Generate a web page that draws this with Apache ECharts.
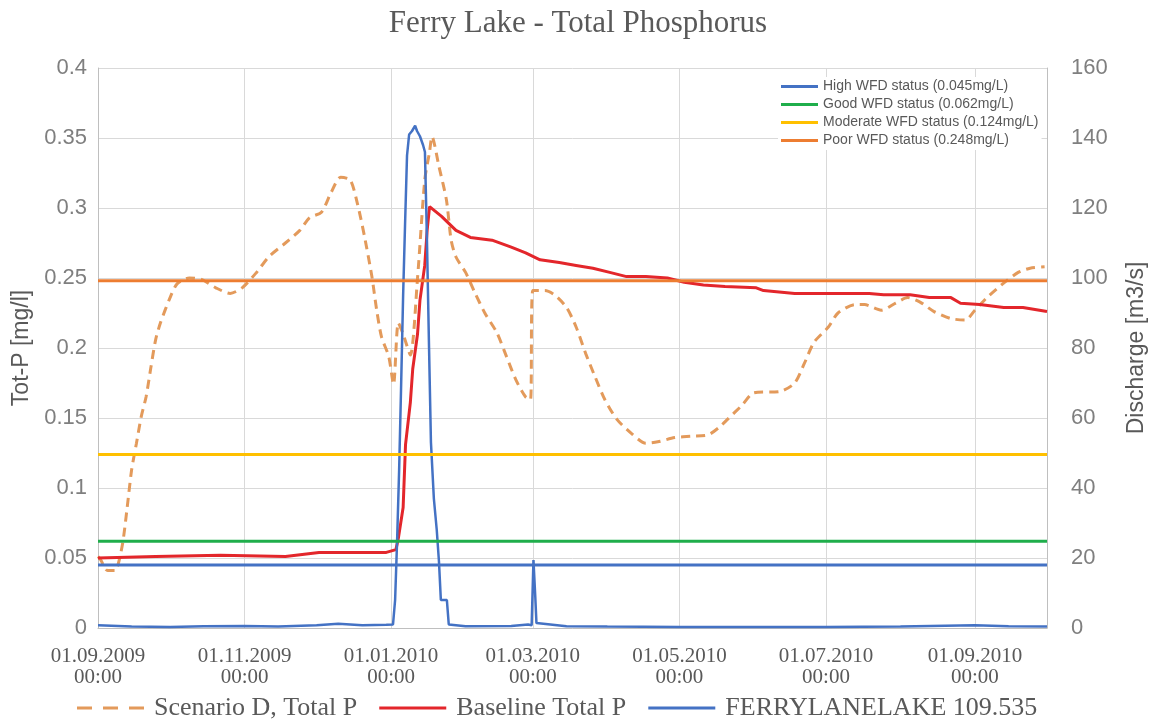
<!DOCTYPE html>
<html>
<head>
<meta charset="utf-8">
<title>Ferry Lake - Total Phosphorus</title>
<script src="https://cdn.jsdelivr.net/npm/echarts@6/dist/echarts.min.js"></script>
<style>
  html, body { margin: 0; padding: 0; background: #fff; }
  #chart { width: 1156px; height: 724px; }
</style>
</head>
<body>
<div id="chart"></div>
<script>
// Axis ticks (two-monthly) and range
const xRange = ['2009-09-01', '2010-10-01'];
const xTickDates = ['2009-09-01', '2009-11-01', '2010-01-01', '2010-03-01', '2010-05-01', '2010-07-01', '2010-09-01'];

// Scenario D, Total P [mg/l]
const scenarioDDates = [
  '2009-09-01', '2009-09-02', '2009-09-05', '2009-09-08', '2009-09-11', '2009-09-13', '2009-09-15', '2009-09-17',
  '2009-09-19', '2009-09-21', '2009-09-23', '2009-09-25', '2009-09-27', '2009-10-01', '2009-10-04', '2009-10-09',
  '2009-10-14', '2009-10-20', '2009-10-26', '2009-10-31', '2009-11-06', '2009-11-11', '2009-11-18', '2009-11-24',
  '2009-11-28', '2009-12-03', '2009-12-07', '2009-12-11', '2009-12-15', '2009-12-18', '2009-12-21', '2009-12-24',
  '2009-12-26', '2009-12-28', '2009-12-31', '2010-01-02', '2010-01-04', '2010-01-06', '2010-01-09', '2010-01-12',
  '2010-01-15', '2010-01-17', '2010-01-18', '2010-01-21', '2010-01-24', '2010-01-26', '2010-01-28', '2010-02-01',
  '2010-02-05', '2010-02-09', '2010-02-14', '2010-02-18', '2010-02-22', '2010-02-26', '2010-02-28', '2010-03-01',
  '2010-03-06', '2010-03-10', '2010-03-15', '2010-03-19', '2010-03-23', '2010-03-27', '2010-03-31', '2010-04-05',
  '2010-04-11', '2010-04-17', '2010-04-22', '2010-04-29', '2010-05-06', '2010-05-13', '2010-05-18', '2010-05-21',
  '2010-05-27', '2010-06-01', '2010-06-12', '2010-06-18', '2010-06-22', '2010-06-26', '2010-07-02', '2010-07-06',
  '2010-07-13', '2010-07-17', '2010-07-24', '2010-07-30', '2010-08-04', '2010-08-09', '2010-08-15', '2010-08-22',
  '2010-08-28', '2010-09-01', '2010-09-06', '2010-09-12', '2010-09-19', '2010-09-24', '2010-09-30'
];
const scenarioDValues = [
  0.051, 0.049, 0.041, 0.041, 0.058, 0.084, 0.113, 0.132,
  0.151, 0.165, 0.186, 0.206, 0.218, 0.236, 0.246, 0.250,
  0.249, 0.243, 0.239, 0.243, 0.254, 0.265, 0.275, 0.284,
  0.293, 0.297, 0.311, 0.322, 0.320, 0.303, 0.279, 0.251,
  0.227, 0.208, 0.194, 0.174, 0.218, 0.210, 0.195, 0.250,
  0.320, 0.340, 0.351, 0.329, 0.306, 0.277, 0.265, 0.254,
  0.239, 0.225, 0.211, 0.194, 0.177, 0.165, 0.163, 0.241,
  0.241, 0.238, 0.229, 0.215, 0.196, 0.179, 0.163, 0.149,
  0.139, 0.132, 0.133, 0.136, 0.137, 0.138, 0.144, 0.149,
  0.159, 0.168, 0.169, 0.175, 0.189, 0.204, 0.215, 0.225,
  0.231, 0.231, 0.227, 0.232, 0.236, 0.233, 0.226, 0.221,
  0.220, 0.227, 0.236, 0.245, 0.254, 0.257, 0.258
];

// Baseline Total P [mg/l]
const baselineDates = [
  '2009-09-01', '2009-09-25', '2009-10-22', '2009-11-18', '2009-12-02', '2009-12-30', '2010-01-03', '2010-01-04',
  '2010-01-06', '2010-01-07', '2010-01-09', '2010-01-10', '2010-01-12', '2010-01-13', '2010-01-15', '2010-01-16',
  '2010-01-17', '2010-01-22', '2010-01-28', '2010-02-03', '2010-02-12', '2010-02-20', '2010-02-26', '2010-03-04',
  '2010-03-12', '2010-03-19', '2010-03-26', '2010-04-02', '2010-04-09', '2010-04-17', '2010-04-26', '2010-05-03',
  '2010-05-11', '2010-05-20', '2010-06-02', '2010-06-05', '2010-06-18', '2010-07-03', '2010-07-19', '2010-07-25',
  '2010-08-05', '2010-08-13', '2010-08-22', '2010-08-26', '2010-09-03', '2010-09-13', '2010-09-21', '2010-10-01'
];
const baselineValues = [
  0.050, 0.051, 0.052, 0.051, 0.054, 0.054, 0.056, 0.064,
  0.086, 0.131, 0.161, 0.185, 0.210, 0.234, 0.259, 0.284,
  0.301, 0.294, 0.284, 0.279, 0.277, 0.272, 0.268, 0.263,
  0.261, 0.259, 0.257, 0.254, 0.251, 0.251, 0.250, 0.247,
  0.245, 0.244, 0.243, 0.241, 0.239, 0.239, 0.239, 0.238,
  0.238, 0.236, 0.236, 0.232, 0.231, 0.229, 0.229, 0.226
];

// FERRYLANELAKE 109.535 discharge [m3/s]
const dischargeDates = [
  '2009-09-01', '2009-09-15', '2009-10-01', '2009-10-15', '2009-11-01', '2009-11-15', '2009-12-01', '2009-12-10',
  '2009-12-20', '2009-12-30', '2010-01-01 19:00', '2010-01-02 16:00', '2010-01-03 12:00', '2010-01-04 08:00',
  '2010-01-05 03:00', '2010-01-06 00:00', '2010-01-06 19:00', '2010-01-07 15:00', '2010-01-08 12:00', '2010-01-09 17:00',
  '2010-01-11 00:00', '2010-01-11 19:00', '2010-01-13 00:00', '2010-01-14 07:00', '2010-01-15 02:00', '2010-01-15 22:00',
  '2010-01-16 19:00', '2010-01-17 14:00', '2010-01-18 19:00', '2010-01-20 00:00', '2010-01-20 22:00', '2010-01-21 17:00',
  '2010-01-24 05:00', '2010-01-25 00:00', '2010-02-01', '2010-02-20', '2010-02-27', '2010-02-28 12:00',
  '2010-03-01 06:00', '2010-03-02 00:00', '2010-03-02 12:00', '2010-03-15', '2010-04-01', '2010-05-01',
  '2010-06-01', '2010-07-01', '2010-08-01', '2010-09-01', '2010-09-15', '2010-10-01'
];
const dischargeValues = [
  0.8, 0.4, 0.3, 0.5, 0.6, 0.4, 0.8, 1.2,
  0.8, 0.9, 1.0, 8, 25, 45,
  68, 95, 115, 135, 141, 142,
  143.5, 142, 140.5, 138, 136, 111,
  80, 53, 37, 28, 19, 8,
  8, 1, 0.5, 0.6, 1.0, 0.8,
  19.4, 9, 1.4, 0.5, 0.4, 0.3,
  0.3, 0.3, 0.4, 0.8, 0.5, 0.4
];

// WFD status class boundaries [mg/l]
const statusNames = ['High WFD status (0.045mg/L)', 'Good WFD status (0.062mg/L)', 'Moderate WFD status (0.124mg/L)', 'Poor WFD status (0.248mg/L)'];
const statusValues = [0.045, 0.062, 0.124, 0.248];
const statusColors = ['#4472c4', '#1fae4b', '#ffc000', '#ed7d31'];

const seriesNames = ['Scenario D, Total P', 'Baseline Total P', 'FERRYLANELAKE 109.535'];

function toTs(s) {
  const [d, t] = s.split(' ');
  const [y, m, day] = d.split('-').map(Number);
  const [hh, mm] = t ? t.split(':').map(Number) : [0, 0];
  return new Date(y, m - 1, day, hh, mm).getTime();
}
function pair(dates, values) {
  return dates.map((d, i) => [toTs(d), values[i]]);
}
function pad(n) { return String(n).padStart(2, '0'); }
function fmtTick(v) {
  const d = new Date(v);
  return pad(d.getDate()) + '.' + pad(d.getMonth() + 1) + '.' + d.getFullYear() + '\n' + pad(d.getHours()) + ':' + pad(d.getMinutes());
}

const xMin = toTs(xRange[0]);
const xMax = toTs(xRange[1]);
const xTicks = xTickDates.map(toTs);

const gridColor = '#d9d9d9';
const textColor = '#595959';
const sans = 'Liberation Sans';
const serif = 'Liberation Serif';

// legend samples: plain bar for solid lines, three dashes for the dashed one
const solidIcon = 'rect';
const dashIcon = 'path://M0,0h15v3h-15z M26,0h15v3h-15z M52,0h15v3h-15z';

const series = [
  {
    name: seriesNames[0], type: 'line', yAxisIndex: 0, showSymbol: false, symbol: 'none',
    data: pair(scenarioDDates, scenarioDValues), smooth: 0.25,
    lineStyle: { color: '#e39a5b', width: 3, type: [9, 6] }, itemStyle: { color: '#e39a5b' }, z: 2
  },
  {
    name: seriesNames[1], type: 'line', yAxisIndex: 0, showSymbol: false, symbol: 'none',
    data: pair(baselineDates, baselineValues),
    lineStyle: { color: '#e3262b', width: 3 }, itemStyle: { color: '#e3262b' }, z: 3
  },
  {
    name: seriesNames[2], type: 'line', yAxisIndex: 1, showSymbol: false, symbol: 'none',
    data: pair(dischargeDates, dischargeValues),
    lineStyle: { color: '#4472c4', width: 2.5 }, itemStyle: { color: '#4472c4' }, z: 4
  }
];
statusNames.forEach((n, i) => {
  series.push({
    name: n, type: 'line', yAxisIndex: 0, showSymbol: false, symbol: 'none', silent: true,
    data: [[xMin, statusValues[i]], [xMax, statusValues[i]]],
    lineStyle: { color: statusColors[i], width: 3 }, itemStyle: { color: statusColors[i] }, z: 5
  });
});

const chart = echarts.init(document.getElementById('chart'), null, { renderer: 'canvas' });
chart.setOption({
  animation: false,
  backgroundColor: '#fff',
  title: {
    text: 'Ferry Lake - Total Phosphorus',
    left: 'center', top: 3,
    textStyle: { fontFamily: serif, fontSize: 31, fontWeight: 'normal', color: textColor }
  },
  legend: [
    {
      data: [
        { name: seriesNames[0], icon: dashIcon },
        { name: seriesNames[1], icon: solidIcon },
        { name: seriesNames[2], icon: solidIcon }
      ],
      bottom: -2, left: 72, itemWidth: 67, itemHeight: 3, itemGap: 22,
      textStyle: { fontFamily: serif, fontSize: 26, color: textColor, padding: [0, 0, 0, 5] }
    },
    {
      data: statusNames, icon: solidIcon, orient: 'vertical', top: 77, left: 778,
      itemWidth: 37, itemHeight: 3, itemGap: 3,
      backgroundColor: '#fff', padding: [2, 3],
      textStyle: { fontFamily: sans, fontSize: 14, lineHeight: 15, color: textColor }
    }
  ],
  grid: { left: 98, right: 106, top: 68, bottom: 96, containLabel: false },
  xAxis: {
    type: 'value', min: xMin, max: xMax,
    axisLine: { show: true, lineStyle: { color: '#bfbfbf' } },
    axisTick: { show: false, customValues: xTicks },
    axisLabel: {
      customValues: xTicks, formatter: fmtTick, margin: 18,
      fontFamily: serif, fontSize: 21, lineHeight: 21, color: textColor
    },
    splitLine: { show: true, lineStyle: { color: gridColor, width: 1 } }
  },
  yAxis: [
    {
      type: 'value', min: 0, max: 0.4, interval: 0.05, position: 'left',
      name: 'Tot-P [mg/l]', nameLocation: 'middle', nameRotate: 90, nameGap: 62,
      nameTextStyle: { fontFamily: sans, fontSize: 23, color: textColor },
      axisLine: { show: true, lineStyle: { color: '#bfbfbf' } },
      axisTick: { show: false },
      axisLabel: { fontFamily: sans, fontSize: 22, color: '#7f7f7f', margin: 11 },
      splitLine: { show: true, lineStyle: { color: gridColor, width: 1 } }
    },
    {
      type: 'value', min: 0, max: 160, interval: 20, position: 'right',
      name: 'Discharge [m3/s]', nameLocation: 'middle', nameRotate: 90, nameGap: 78,
      nameTextStyle: { fontFamily: sans, fontSize: 23, color: textColor },
      axisLine: { show: true, lineStyle: { color: '#bfbfbf' } },
      axisTick: { show: false },
      axisLabel: { fontFamily: sans, fontSize: 22, color: '#7f7f7f', margin: 24 },
      splitLine: { show: false }
    }
  ],
  series: series
});
</script>
</body>
</html>
